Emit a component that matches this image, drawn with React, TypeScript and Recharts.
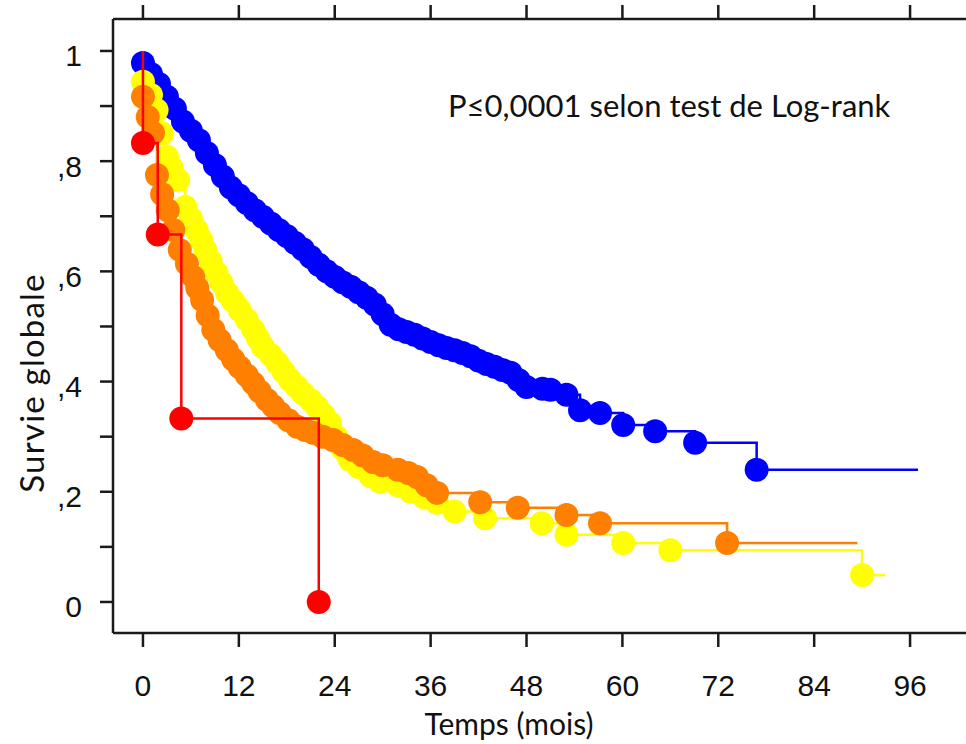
import React from 'react'
import { ComposedChart, Line, XAxis, YAxis } from 'recharts'

// Kaplan-Meier curves, values (time in months, overall survival)
const blueTime = [0, 1, 2, 3, 4, 5, 6, 7, 8, 9, 10, 11, 12, 13, 14, 15, 16, 17, 18, 19, 20, 21, 22, 23, 24, 25, 26, 27, 28, 29, 30, 31, 32, 33, 34, 35, 36, 37, 38, 39, 40, 41, 42, 43, 44, 45, 46, 47, 48, 50, 51, 53, 54.7, 57.2, 60.1, 64.1, 69.1, 76.8]
const blueSurv = [0.978, 0.958, 0.94, 0.917, 0.895, 0.872, 0.855, 0.838, 0.815, 0.793, 0.772, 0.752, 0.738, 0.724, 0.711, 0.699, 0.687, 0.675, 0.664, 0.652, 0.64, 0.626, 0.612, 0.6, 0.59, 0.58, 0.572, 0.562, 0.552, 0.54, 0.522, 0.503, 0.495, 0.49, 0.485, 0.478, 0.472, 0.466, 0.461, 0.457, 0.452, 0.446, 0.438, 0.432, 0.427, 0.421, 0.416, 0.403, 0.39, 0.387, 0.385, 0.376, 0.348, 0.343, 0.321, 0.31, 0.289, 0.24]
const blueEnd = 97

const yellowTime = [0, 1, 1.7, 2.4, 3, 3.6, 4.4, 5.3, 6, 6.7, 7.3, 7.8, 8.5, 9.2, 9.8, 10.5, 11.3, 12.1, 13, 13.8, 14.4, 15, 16, 16.8, 17.6, 18.4, 19.2, 20, 21, 21.8, 22.6, 23.4, 24.2, 25, 25.9, 27, 28.5, 29.7, 31.9, 33.5, 35.2, 36.8, 39, 42.8, 49.9, 53, 60.1, 66, 90]
const yellowSurv = [0.944, 0.92, 0.893, 0.85, 0.808, 0.788, 0.766, 0.717, 0.696, 0.675, 0.657, 0.639, 0.618, 0.597, 0.58, 0.561, 0.546, 0.53, 0.512, 0.494, 0.478, 0.463, 0.448, 0.434, 0.418, 0.403, 0.391, 0.379, 0.366, 0.354, 0.34, 0.325, 0.3, 0.278, 0.258, 0.245, 0.228, 0.218, 0.212, 0.2, 0.19, 0.18, 0.164, 0.152, 0.143, 0.122, 0.107, 0.094, 0.049]
const yellowEnd = 92.9

const orangeTime = [0, 0.6, 1.25, 1.75, 2.4, 3.1, 3.8, 4.6, 5.5, 6.3, 6.8, 7.4, 8.1, 8.8, 9.6, 10.5, 11.3, 12.1, 13, 13.8, 14.6, 15.5, 16.3, 17.1, 18.2, 19.3, 20.3, 21.3, 22.5, 23.8, 25, 26.3, 27.5, 28.8, 30, 31.9, 33.2, 34.3, 35.5, 36.8, 42.2, 46.9, 53, 57.2, 73.1]
const orangeSurv = [0.917, 0.88, 0.851, 0.775, 0.74, 0.711, 0.675, 0.639, 0.614, 0.59, 0.57, 0.548, 0.52, 0.494, 0.475, 0.457, 0.44, 0.426, 0.411, 0.397, 0.382, 0.367, 0.355, 0.343, 0.33, 0.318, 0.312, 0.307, 0.3, 0.294, 0.285, 0.276, 0.266, 0.254, 0.248, 0.24, 0.234, 0.227, 0.212, 0.198, 0.181, 0.171, 0.158, 0.143, 0.107]
const orangeEnd = 89.4

const redTime = [0, 1.85, 4.8, 22]
const redSurv = [0.833, 0.667, 0.333, 0]

const xTicks = [0, 12, 24, 36, 48, 60, 72, 84, 96]
const yTicks = [0, 0.1, 0.2, 0.3, 0.4, 0.5, 0.6, 0.7, 0.8, 0.9, 1]
const yTickText = ['0', '', ',2', '', ',4', '', ',6', '', ',8', '', '1']

type Pt = { t: number; s: number; m: boolean }

// step curve: starts at 1, one marker per reading, optional flat tail
const curve = (time: number[], surv: number[], end?: number): Pt[] => {
  const pts: Pt[] = [{ t: 0, s: 1, m: false }]
  time.forEach((t, i) => pts.push({ t, s: surv[i], m: true }))
  if (end !== undefined) pts.push({ t: end, s: surv[surv.length - 1], m: false })
  return pts
}

// red step line sits above every marker in the original, the others below
const series = [
  { name: 'blue', color: '#0000ff', data: curve(blueTime, blueSurv, blueEnd), top: false },
  { name: 'yellow', color: '#ffff00', data: curve(yellowTime, yellowSurv, yellowEnd), top: false },
  { name: 'orange', color: '#ff8000', data: curve(orangeTime, orangeSurv, orangeEnd), top: false },
  { name: 'red', color: '#ff0000', data: curve(redTime, redSurv), top: true },
]

const tickFont = '"Liberation Sans", Arial, sans-serif'
const labelFont = 'Lato, "Open Sans", sans-serif'
const axisColor = '#1a1a1a'

const XTick = ({ x, y, payload }: any) => (
  <text x={x} y={y + 22} textAnchor="middle" fontFamily={tickFont} fontSize={30} fill="#111">
    {payload.value}
  </text>
)

const YTick = ({ x, y, index }: any) => (
  <text x={x} y={y + 15.5} textAnchor="end" fontFamily={tickFont} fontSize={30} fill="#111">
    {yTickText[index]}
  </text>
)

const NoTick = () => <g />

const marker = (color: string) => (p: any) =>
  p.payload.m
    ? <circle key={p.key} cx={p.cx} cy={p.cy} r={12} fill={color} />
    : <g key={p.key} />

export default function App() {
  return (
    <div style={{ position: 'absolute', left: 0, top: 0, width: 966, height: 744, background: '#fff' }}>
      <ComposedChart width={966} height={744} margin={{ top: 0, right: 0, bottom: 0, left: 0 }}>
        <XAxis
          dataKey="t" type="number" domain={[-3.75, 103]} allowDataOverflow
          ticks={xTicks} height={111} tickSize={14} tickMargin={27}
          stroke={axisColor} strokeWidth={2.5} tick={<XTick />}
        />
        <XAxis
          xAxisId="top" orientation="top" dataKey="t" type="number" domain={[-3.75, 103]}
          allowDataOverflow ticks={xTicks} height={19} tickSize={14}
          stroke={axisColor} strokeWidth={2.5} tick={<NoTick />}
        />
        <YAxis
          dataKey="s" type="number" domain={[-0.0563, 1.058]} allowDataOverflow
          ticks={yTicks} width={113} tickSize={13} tickMargin={18}
          stroke={axisColor} strokeWidth={2.5} tick={<YTick />}
        />
        {series.map((sr) => (
          <Line
            key={sr.name} data={sr.data} dataKey="s" type="stepAfter"
            stroke={sr.color} strokeWidth={2.5} dot={marker(sr.color)} activeDot={false}
            isAnimationActive={false} {...(sr.top ? ({ zIndex: 700 } as any) : {})}
          />
        ))}
      </ComposedChart>
      <svg width={966} height={744} style={{ position: 'absolute', left: 0, top: 0, pointerEvents: 'none' }}>
        <text x={448} y={117} fontFamily={labelFont} fontSize={31} fill="#111">P≤0,0001 selon test de Log-rank</text>
        <text x={509} y={735} textAnchor="middle" fontFamily={labelFont} fontSize={30} fill="#111">Temps (mois)</text>
        <text x={44} y={383} textAnchor="middle" fontFamily={labelFont} fontSize={33} letterSpacing={1.2} fill="#111" transform="rotate(-90 44 383)">Survie globale</text>
      </svg>
    </div>
  )
}
